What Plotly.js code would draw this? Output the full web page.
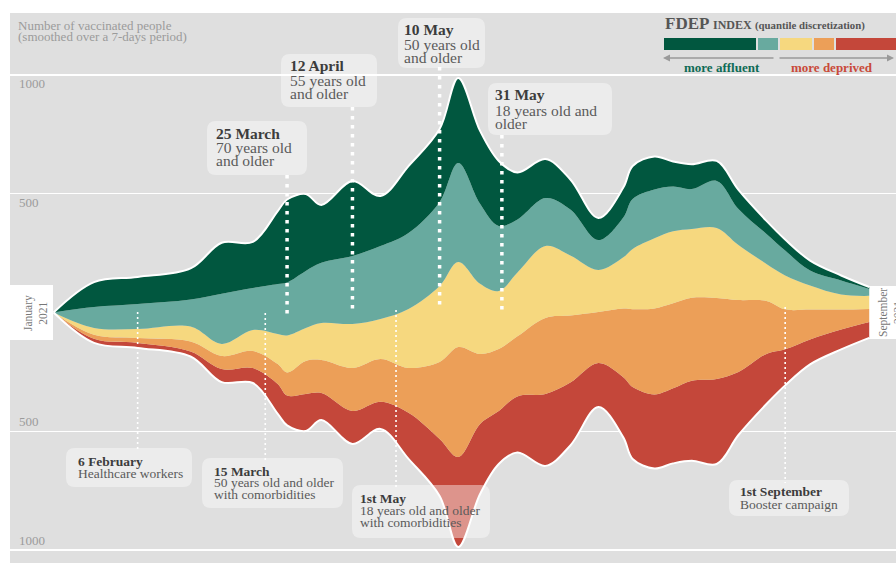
<!DOCTYPE html>
<html><head><meta charset="utf-8">
<script src="https://cdn.plot.ly/plotly-3.0.1.min.js"></script>
<style>html,body{margin:0;padding:0;background:#fff;}#chart{width:896px;height:563px;}</style>
</head><body><div id="chart"></div>
<script>
// ---------- DATA ----------
const dates = ['2021-01-08','2021-01-21','2021-02-04','2021-02-21','2021-03-03','2021-03-13','2021-03-21','2021-03-24','2021-03-30','2021-04-04','2021-04-14','2021-04-23','2021-05-02','2021-05-12','2021-05-18','2021-05-25','2021-05-31','2021-06-06','2021-06-15','2021-06-23','2021-07-02','2021-07-10','2021-07-13','2021-07-20','2021-07-26','2021-08-01','2021-08-09','2021-08-16','2021-08-25','2021-08-31','2021-09-08','2021-09-18','2021-09-27'];
const q1Affluent = [0,105,114,131,215,194,307,349,324,244,316,211,282,307,358,307,274,198,164,126,93,126,139,139,105,105,84,80,55,46,42,21,8];
const q2 = [0,88,105,114,211,177,211,223,240,253,286,307,320,354,417,337,274,223,202,194,126,168,211,206,189,168,198,152,126,105,63,59,29];
const q3 = [0,29,38,63,51,88,126,156,139,156,185,168,248,320,358,295,244,269,303,253,177,215,253,295,303,290,295,232,156,143,101,63,55];
const q4 = [0,17,21,42,55,72,84,97,139,139,181,181,189,324,463,295,261,253,320,282,215,290,328,362,358,349,341,303,223,168,126,84,55];
const q5Deprived = [0,17,21,21,55,63,126,126,156,114,139,114,194,240,379,295,223,236,303,265,185,253,303,312,316,337,358,265,211,152,105,84,67];
const quintileNames = ['Q1 (more affluent)','Q2','Q3','Q4','Q5 (more deprived)'];
const quintileColors = ['#01573f','#68aa9f','#f6d87f','#ec9f58','#c4473a'];
const yTickVals = [1000, 500, -500, -1000];
const yTickText = ['1000', '500', '500', '1000'];
const eventDates = ['2021-02-04','2021-03-17','2021-03-24','2021-04-14','2021-04-28','2021-05-12','2021-06-01','2021-08-31'];
const eventTitles = ['6 February','15 March','25 March','12 April','1st May','10 May','31 May','1st September'];
const eventTexts = [['Healthcare workers'],['50 years old and older','with comorbidities'],['70 years old','and older'],['55 years old','and older'],['18 years old and older','with comorbidities'],['50 years old','and older'],['18 years old and','older'],['Booster campaign']];

// ---------- LAYOUT GEOMETRY (pixels) ----------
const W = 896, H = 563, ML = 10, MT = 13, PW = W - ML, PH = H - MT;
const px = x => (x - ML) / PW;
const py = y => (MT + PH - y) / PH;
const evBox = [[66,448,192,487],[202,458,343,508],[207,121,307,175],[281,54,377,107],[352,485,490,538],[398,18,485,68],[488,83,612,135],[729,480,849,516]];
const evTextX = [76,212,214,288,358,402,493,738];
const evLineY = [[461,473],[471,482,494],[133,147,161],[65,80,94],[498,510,522],[30,44,58],[95,110,124],[492,504]];
const evDot = [[312,450],[313,460],[175,315],[107,312],[310,487],[67,308],[135,312],[307,483]];
const evThick = [false,false,true,true,false,true,true,false];

const SERIF = 'Liberation Serif, DejaVu Serif, serif';

// ---------- STREAM (silhouette offset) ----------
const layers = [q5Deprived, q4, q3, q2, q1Affluent]; // bottom -> top
const layerColors = [quintileColors[4], quintileColors[3], quintileColors[2], quintileColors[1], quintileColors[0]];
const layerNames = [quintileNames[4], quintileNames[3], quintileNames[2], quintileNames[1], quintileNames[0]];
const total = dates.map((_, i) => layers.reduce((s, a) => s + a[i], 0));
const base = total.map(t => -t / 2);
const traces = [];
traces.push({x: dates, y: base, mode: 'lines', line: {width: 0, shape: 'spline', smoothing: 1}, hoverinfo: 'skip', showlegend: false});
let cum = base.slice();
layers.forEach((arr, k) => {
  cum = cum.map((v, i) => v + arr[i]);
  traces.push({x: dates, y: cum.slice(), mode: 'lines', fill: 'tonexty', fillcolor: layerColors[k], name: layerNames[k],
    line: {width: 0, color: layerColors[k], shape: 'spline', smoothing: 1}, showlegend: false});
});
traces.push({x: dates, y: base, mode: 'lines', line: {width: 2, color: '#ffffff', shape: 'spline', smoothing: 1}, hoverinfo: 'skip', showlegend: false});
traces.push({x: dates, y: cum.slice(), mode: 'lines', line: {width: 2, color: '#ffffff', shape: 'spline', smoothing: 1}, hoverinfo: 'skip', showlegend: false});

// ---------- SHAPES & ANNOTATIONS ----------
function rrect(x0, y0, x1, y1, r, fill) {
  const X = px, Y = py;
  const p = `M ${X(x0+r)} ${Y(y0)} L ${X(x1-r)} ${Y(y0)} Q ${X(x1)} ${Y(y0)} ${X(x1)} ${Y(y0+r)} L ${X(x1)} ${Y(y1-r)} Q ${X(x1)} ${Y(y1)} ${X(x1-r)} ${Y(y1)} L ${X(x0+r)} ${Y(y1)} Q ${X(x0)} ${Y(y1)} ${X(x0)} ${Y(y1-r)} L ${X(x0)} ${Y(y0+r)} Q ${X(x0)} ${Y(y0)} ${X(x0+r)} ${Y(y0)} Z`;
  return {type: 'path', xref: 'paper', yref: 'paper', path: p, fillcolor: fill, line: {width: 0}, layer: 'above'};
}
const shapes = [];
const annotations = [];

// white bands at start / end
shapes.push({type: 'rect', xref: 'paper', yref: 'paper', x0: 0, x1: px(53), y0: py(340), y1: py(285), fillcolor: '#ffffff', line: {width: 0}, layer: 'below'});
shapes.push({type: 'rect', xref: 'paper', yref: 'paper', x0: px(867), x1: 1, y0: py(339), y1: py(286), fillcolor: '#ffffff', line: {width: 0}, layer: 'below'});
annotations.push({xref: 'paper', yref: 'paper', x: px(35), y: py(313), text: 'January<br>2021', textangle: -90, showarrow: false,
  font: {family: SERIF, size: 11.5, color: '#777777'}, xanchor: 'center', yanchor: 'middle'});
annotations.push({xref: 'paper', yref: 'paper', x: px(890), y: py(313), text: 'September<br>2021', textangle: -90, showarrow: false,
  font: {family: SERIF, size: 11.5, color: '#777777'}, xanchor: 'center', yanchor: 'middle'});

// y tick labels
yTickVals.forEach((v, i) => {
  annotations.push({xref: 'paper', yref: 'y', x: px(17), y: v, text: yTickText[i], showarrow: false, xanchor: 'left',
    yanchor: v > 0 ? 'top' : 'bottom', yshift: v > 0 ? 1 : 0, font: {family: SERIF, size: 13, color: '#9b9b9b'}});
});
// axis title
annotations.push({xref: 'paper', yref: 'paper', x: px(16), y: py(25.5), text: 'Number of vaccinated people', showarrow: false, xanchor: 'left', yanchor: 'middle', font: {family: SERIF, size: 13, color: '#9b9b9b'}});
annotations.push({xref: 'paper', yref: 'paper', x: px(16), y: py(37), text: '(smoothed over a 7-days period)', showarrow: false, xanchor: 'left', yanchor: 'middle', font: {family: SERIF, size: 13, color: '#9b9b9b'}});

// events
eventDates.forEach((d, i) => {
  const b = evBox[i];
  shapes.push(rrect(b[0], b[1], b[2], b[3], 9, 'rgba(255,255,255,0.42)'));
  const thick = evThick[i];
  shapes.push({type: 'line', xref: 'x', yref: 'paper', x0: d, x1: d, y0: py(evDot[i][0]), y1: py(evDot[i][1]),
    line: {color: '#ffffff', width: thick ? 3.5 : 1.6, dash: thick ? '3.5px,5.5px' : '2px,3px'}, layer: 'above'});
  const fs = thick ? 15.5 : 13.5;
  const lines = [eventTitles[i]].concat(eventTexts[i]);
  lines.forEach((t, j) => {
    annotations.push({xref: 'paper', yref: 'paper', x: px(evTextX[i]), y: py(evLineY[i][j]), text: j === 0 ? '<b>' + t + '</b>' : t,
      showarrow: false, xanchor: 'left', yanchor: 'middle', font: {family: SERIF, size: fs, color: j === 0 ? '#3c3c3c' : '#5a5a5a'}});
  });
});

// legend (FDEP index)
const legSeg = [[664,756],[758,778],[780,812],[814,834],[836,900]];
quintileColors.forEach((c, i) => {
  shapes.push({type: 'rect', xref: 'paper', yref: 'paper', x0: px(legSeg[i][0]), x1: px(legSeg[i][1]), y0: py(50), y1: py(38), fillcolor: c, line: {width: 0}, layer: 'above'});
});
annotations.push({xref: 'paper', yref: 'paper', x: px(663), y: py(23.5), text: '<b>FDEP</b>', showarrow: false, xanchor: 'left', yanchor: 'middle', font: {family: SERIF, size: 17, color: '#555555'}});
annotations.push({xref: 'paper', yref: 'paper', x: px(711), y: py(25), text: '<b>INDEX</b>', showarrow: false, xanchor: 'left', yanchor: 'middle', font: {family: SERIF, size: 12, color: '#555555'}});
annotations.push({xref: 'paper', yref: 'paper', x: px(753), y: py(25), text: '<b>(quantile discretization)</b>', showarrow: false, xanchor: 'left', yanchor: 'middle', font: {family: SERIF, size: 10.8, color: '#555555'}});
annotations.push({xref: 'paper', yref: 'paper', x: px(663), y: py(58), ax: 112, ay: 0, text: '', showarrow: true, arrowhead: 2, arrowsize: 1, arrowwidth: 1.4, arrowcolor: '#9a9a9a'});
annotations.push({xref: 'paper', yref: 'paper', x: px(894), y: py(58), ax: -116, ay: 0, text: '', showarrow: true, arrowhead: 2, arrowsize: 1, arrowwidth: 1.4, arrowcolor: '#9a9a9a'});
annotations.push({xref: 'paper', yref: 'paper', x: px(722), y: py(68), text: '<b>more affluent</b>', showarrow: false, xanchor: 'center', yanchor: 'middle', font: {family: SERIF, size: 13, color: '#0e6b55'}});
annotations.push({xref: 'paper', yref: 'paper', x: px(832), y: py(68), text: '<b>more deprived</b>', showarrow: false, xanchor: 'center', yanchor: 'middle', font: {family: SERIF, size: 13, color: '#c94a3a'}});

const layout = {
  width: W, height: H, margin: {l: ML, r: 0, t: MT, b: 0, pad: 0},
  paper_bgcolor: '#ffffff', plot_bgcolor: '#dfdfdf', showlegend: false,
  xaxis: {type: 'date', range: ['2020-12-25', '2021-10-05 14:24'], showgrid: false, zeroline: false, showticklabels: false, ticks: '', showline: false, automargin: false},
  yaxis: {range: [-1055, 1261], tickvals: yTickVals, showticklabels: false, showgrid: true, gridcolor: '#ffffff', gridwidth: 1.3, zeroline: false, ticks: '', showline: false, automargin: false},
  shapes: shapes, annotations: annotations
};
Plotly.newPlot('chart', traces, layout, {displayModeBar: false, staticPlot: true});
</script></body></html>
